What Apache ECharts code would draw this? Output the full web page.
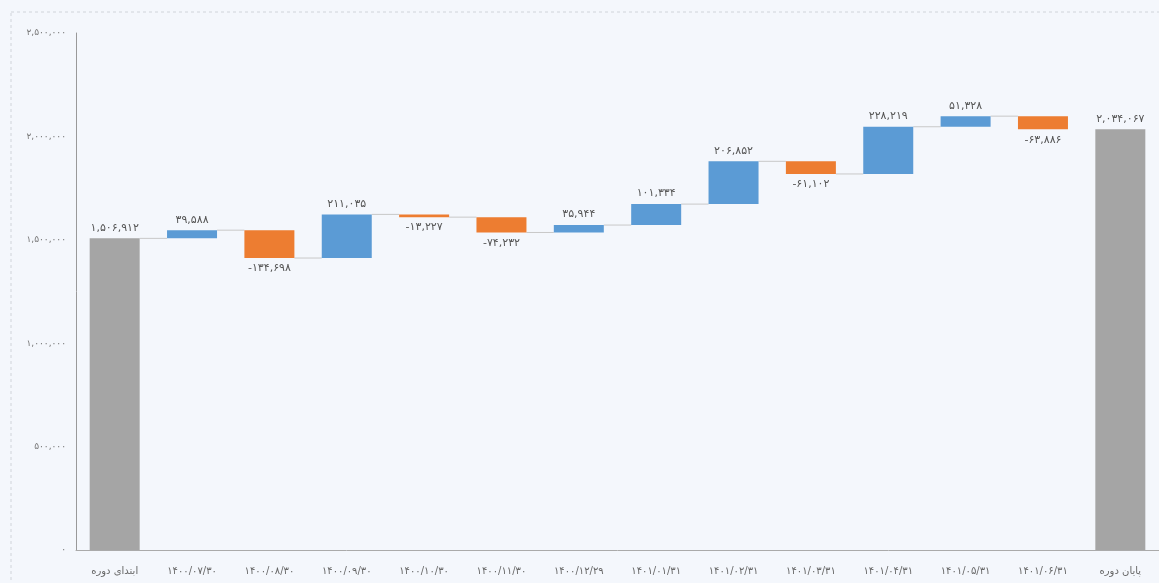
<!DOCTYPE html>
<html><head><meta charset="utf-8">
<script src="https://cdn.jsdelivr.net/npm/echarts@6/dist/echarts.min.js"></script>
<style>html,body{margin:0;padding:0;background:#f4f7fc;}#c{width:1159px;height:583px;}</style>
</head><body><div id="c"></div>
<script>
const categories = ['ابتدای دوره','۱۴۰۰/۰۷/۳۰','۱۴۰۰/۰۸/۳۰','۱۴۰۰/۰۹/۳۰','۱۴۰۰/۱۰/۳۰','۱۴۰۰/۱۱/۳۰','۱۴۰۰/۱۲/۲۹','۱۴۰۱/۰۱/۳۱','۱۴۰۱/۰۲/۳۱','۱۴۰۱/۰۳/۳۱','۱۴۰۱/۰۴/۳۱','۱۴۰۱/۰۵/۳۱','۱۴۰۱/۰۶/۳۱','پایان دوره'];
const startValue = 1506912;
const changes = [39588, -134698, 211035, -13227, -74232, 35944, 101334, 206852, -61102, 228219, 51328, -63886];
const endValue = 2034067;
const yTicks = [0, 500000, 1000000, 1500000, 2000000, 2500000];

const fa = s => String(s).replace(/[0-9]/g, d => '۰۱۲۳۴۵۶۷۸۹'[d]);
const fmt = v => fa(Math.abs(v).toLocaleString('en-US'));

const n = categories.length;
const base = [], total = [], up = [], down = [], levels = [];
let run = startValue;
base.push(0); total.push(startValue); up.push('-'); down.push('-'); levels.push([0, run]);
changes.forEach((c, i) => {
  const prev = run; run += c;
  base.push(Math.min(prev, run));
  total.push('-');
  up.push(c >= 0 ? c : '-');
  down.push(c < 0 ? -c : '-');
  levels.push([i + 1, run]);
});
base.push(0); total.push(endValue); up.push('-'); down.push('-');
levels.pop();

const BW = 50;
const lbl = {show:true, fontSize:11, color:'#555', distance:5, fontFamily:'DejaVu Sans'};
const chart = echarts.init(document.getElementById('c'));
chart.setOption({
  backgroundColor:'#f4f7fc',
  animation:false,
  graphic:[{type:'rect', shape:{x:11, y:12, width:1200, height:620}, style:{fill:'none', stroke:'#d0d4da', lineWidth:1, lineDash:[3,3]}, silent:true}],
  grid:{left:76, top:33, width:1090, bottom:33},
  xAxis:{type:'category', data:categories, axisTick:{show:false},
    axisLine:{lineStyle:{color:'#aaa'}},
    axisLabel:{fontSize:10, color:'#666', margin:16, interval:0, fontFamily:'DejaVu Sans'}},
  yAxis:{type:'value', min:0, max:2500000, interval:500000,
    axisLine:{show:true, lineStyle:{color:'#999'}}, axisTick:{show:false}, splitLine:{show:false},
    axisLabel:{fontSize:9, color:'#777', margin:10, fontFamily:'DejaVu Sans', formatter:v => fmt(v)}},
  series:[
    {type:'bar', stack:'w', data:base, barWidth:BW, itemStyle:{color:'transparent'}, silent:true},
    {type:'bar', stack:'w', data:total, barWidth:BW, itemStyle:{color:'#a5a5a5'},
      label:Object.assign({position:'top', formatter:p => fmt(p.value)}, lbl)},
    {type:'bar', stack:'w', data:up, barWidth:BW, itemStyle:{color:'#5b9bd5'},
      label:Object.assign({position:'top', formatter:p => fmt(p.value)}, lbl)},
    {type:'bar', stack:'w', data:down, barWidth:BW, itemStyle:{color:'#ed7d31'},
      label:Object.assign({position:'bottom', formatter:p => '-' + fmt(p.value)}, lbl)},
    {type:'custom', data:levels, silent:true, z:1,
      renderItem:(params, api) => {
        const p = api.coord([api.value(0), api.value(1)]);
        const w = api.size([1, 0])[0];
        return {type:'line', shape:{x1:p[0] + BW/2, y1:p[1], x2:p[0] + w - BW/2, y2:p[1]},
          style:{stroke:'#c8c8c8', lineWidth:1}};
      }}
  ]
});
</script></body></html>
